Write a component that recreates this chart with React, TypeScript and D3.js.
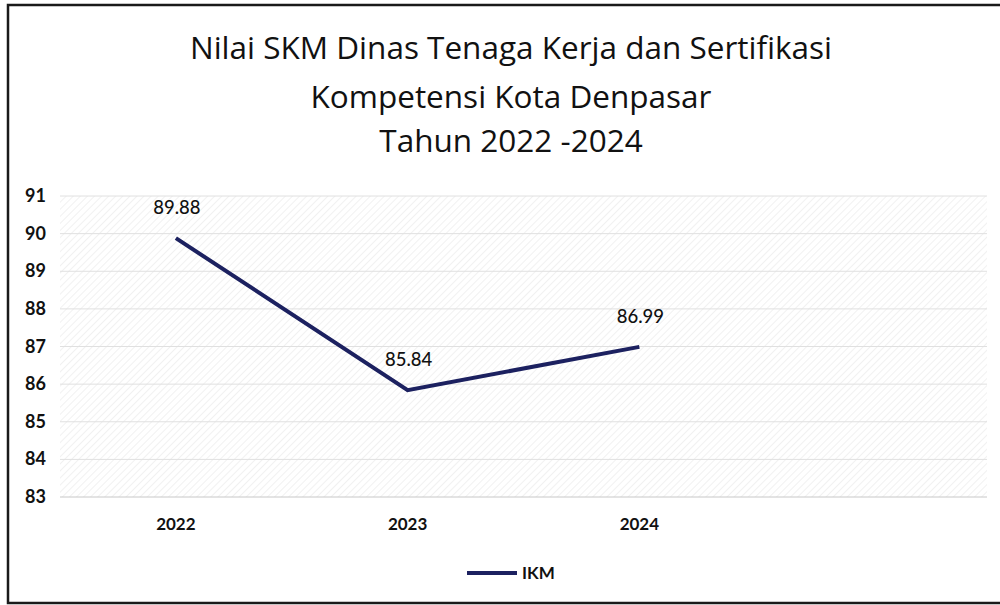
import React from "react";
import * as d3 from "d3";

const titleLines = [
  "Nilai SKM Dinas Tenaga Kerja dan Sertifikasi",
  "Kompetensi Kota Denpasar",
  "Tahun 2022 -2024",
];
const years = ["2022", "2023", "2024"];
const ikm = [89.88, 85.84, 86.99];
const yTicks = [83, 84, 85, 86, 87, 88, 89, 90, 91];
const seriesName = "IKM";

const W = 1000;
const H = 605;
const FONT = "Lato, 'Open Sans', sans-serif";
const TITLE_FONT = "'Open Sans', Lato, sans-serif";
const NAVY = "#1c2160";

export default function App() {
  const left = 60, right = 987, top = 196, bottom = 497;
  const x = d3.scaleBand<string>().domain([...years, ""]).range([left, right]);
  const y = d3.scaleLinear().domain([83, 91]).range([bottom, top]);
  const cx = (yr: string) => (x(yr) as number) + x.bandwidth() / 2;
  const pts: [number, number][] = years.map((yr, i) => [cx(yr), y(ikm[i])]);
  const line = d3.line();
  const titleY = [59, 108, 152];

  return (
    <svg width={W} height={H} style={{ position: "absolute", left: 0, top: 0, background: "#fff" }}>
      <defs>
        <pattern id="hatch" width="5" height="5" patternUnits="userSpaceOnUse" patternTransform="rotate(45)">
          <line x1="0" y1="0" x2="0" y2="5" stroke="#e6e6e6" strokeWidth="1.1" />
        </pattern>
      </defs>
      <rect x={0} y={0} width={W} height={H} fill="#fff" />
      {/* frame */}
      <path d={`M1000,5 L8,5 L8,603 L1000,603`} fill="none" stroke="#1a1a1a" strokeWidth={2.5} />
      {/* title */}
      {titleLines.map((t, i) => (
        <text key={i} x={511} y={titleY[i]} textAnchor="middle" fontFamily={TITLE_FONT} fontSize={31.5} fill="#111">
          {t}
        </text>
      ))}
      {/* plot area */}
      <rect x={left} y={top} width={right - left} height={bottom - top} fill="url(#hatch)" />
      {yTicks.map((t) => (
        <line key={t} x1={left} x2={right} y1={y(t)} y2={y(t)} stroke={t === 83 ? "#c8c8c8" : "#e0e0e0"} strokeWidth={1} />
      ))}
      {yTicks.map((t) => (
        <text key={t} x={46} y={y(t) + 6} textAnchor="end" fontFamily={FONT} fontWeight="bold" fontSize={18} fill="#111">
          {t}
        </text>
      ))}
      {years.map((yr) => (
        <text key={yr} x={cx(yr)} y={530} textAnchor="middle" fontFamily={FONT} fontWeight="bold" fontSize={17} fill="#111">
          {yr}
        </text>
      ))}
      <path d={line(pts) || ""} fill="none" stroke={NAVY} strokeWidth={4} strokeLinejoin="miter" />
      {years.map((yr, i) => (
        <text key={yr} x={cx(yr) + 1} y={y(ikm[i]) - 24} textAnchor="middle" fontFamily={FONT} fontWeight={500} fontSize={18.5} fill="#111">
          {ikm[i].toFixed(2)}
        </text>
      ))}
      {/* legend */}
      <line x1={467} x2={517} y1={573} y2={573} stroke={NAVY} strokeWidth={4} />
      <text x={522} y={579} fontFamily={FONT} fontWeight="bold" fontSize={17} fill="#111">
        {seriesName}
      </text>
    </svg>
  );
}
